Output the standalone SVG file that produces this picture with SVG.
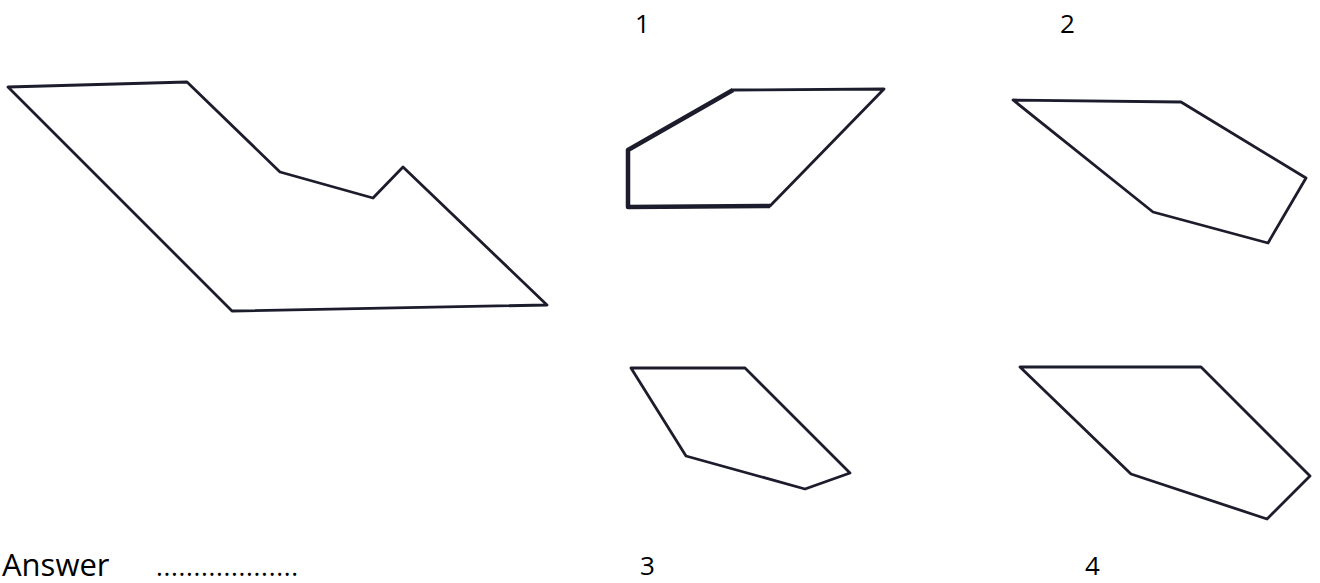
<svg xmlns="http://www.w3.org/2000/svg" width="1320" height="583" viewBox="0 0 1320 583">
<style>
.s{fill:none;stroke:#1c1c2c;stroke-width:2.8;stroke-linejoin:round}
.t{font-family:"Open Sans","Noto Sans",sans-serif;font-size:26px;fill:#000}
</style>
<rect width="1320" height="583" fill="#fff"/>
<g id="main"><polygon class="s" points="8,87 187,82 280,172 373,198 403,167 547,305 232,311"/></g>
<g id="opt1">
<polygon class="s" points="628,150 628,207 770,206 884,89 733,90"/>
<polyline points="733,90 628,150 628,207 770,206" fill="none" stroke="#1c1c2c" stroke-width="4.5" stroke-linejoin="round"/>
<text class="t" x="635" y="33">1</text>
</g>
<g id="opt2">
<polygon class="s" points="1013,100 1181,102 1306,178 1268,243 1153,212"/>
<text class="t" x="1060" y="33">2</text>
</g>
<g id="opt3">
<polygon class="s" points="631,368 745,368 850,473 805,489 686,456"/>
<text class="t" x="640" y="575">3</text>
</g>
<g id="opt4">
<polygon class="s" points="1020,367 1201,367 1310,476 1267,519 1131,474"/>
<text class="t" x="1085" y="575">4</text>
</g>
<g id="answer">
<text class="t" x="2" y="576" style="font-size:31px">Answer</text>
<text class="t" x="156" y="576" textLength="142" lengthAdjust="spacing">...................</text>
</g>
</svg>
